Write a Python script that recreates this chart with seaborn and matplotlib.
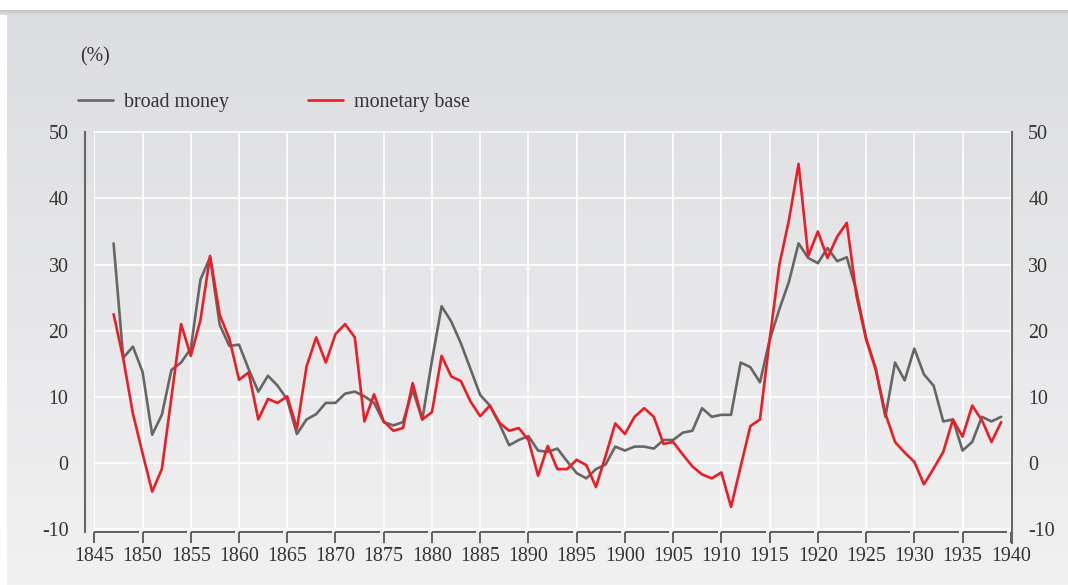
import numpy as np
import pandas as pd
import matplotlib.pyplot as plt
import matplotlib.transforms as mtransforms
from matplotlib.colors import LinearSegmentedColormap
import seaborn as sns

# Annual growth rates (%), 1847-1939
years = list(range(1847, 1940))

broad_money = [
    33.2, 15.9, 17.6, 13.8, 4.3, 7.3, 14.1, 15.2, 17.3, 27.7,   # 1847-1856
    31.1, 20.9, 17.7, 17.9, 14.2, 10.8, 13.2, 11.7, 9.6, 4.4,   # 1857-1866
    6.6, 7.4, 9.1, 9.1, 10.5, 10.8, 10.1, 9.1, 6.2, 5.7,        # 1867-1876
    6.2, 11.1, 6.6, 15.5, 23.7, 21.4, 18.1, 14.2, 10.3, 8.7,    # 1877-1886
    5.9, 2.7, 3.5, 4.1, 1.9, 1.7, 2.2, 0.3, -1.5, -2.3,         # 1887-1896
    -0.9, -0.2, 2.5, 1.9, 2.5, 2.5, 2.2, 3.5, 3.5, 4.6,         # 1897-1906
    4.9, 8.3, 7.0, 7.3, 7.3, 15.2, 14.5, 12.2, 18.6, 23.2,      # 1907-1916
    27.4, 33.2, 31.0, 30.2, 32.5, 30.5, 31.1, 26.0, 18.9, 14.3, # 1917-1926
    7.0, 15.2, 12.5, 17.3, 13.4, 11.7, 6.3, 6.6, 1.9, 3.2,      # 1927-1936
    7.0, 6.3, 7.0,                                              # 1937-1939
]

monetary_base = [
    22.5, 15.8, 7.5, 1.5, -4.3, -0.9, 10.0, 21.0, 16.2, 21.6,   # 1847-1856
    31.3, 22.4, 18.8, 12.6, 13.7, 6.6, 9.7, 9.1, 10.1, 5.2,     # 1857-1866
    14.6, 19.0, 15.2, 19.5, 21.0, 19.0, 6.3, 10.4, 6.3, 4.9,    # 1867-1876
    5.3, 12.1, 6.6, 7.7, 16.2, 13.1, 12.4, 9.3, 7.1, 8.7,       # 1877-1886
    6.1, 4.9, 5.3, 3.5, -1.9, 2.6, -0.9, -0.9, 0.5, -0.3,       # 1887-1896
    -3.6, 1.1, 6.0, 4.4, 7.0, 8.3, 7.0, 2.9, 3.2, 1.3,          # 1897-1906
    -0.5, -1.7, -2.3, -1.4, -6.6, -0.5, 5.6, 6.6, 18.6, 29.9,   # 1907-1916
    36.7, 45.2, 31.3, 35.0, 31.0, 34.2, 36.3, 25.3, 18.7, 14.1, # 1917-1926
    7.5, 3.2, 1.6, 0.2, -3.2, -0.8, 1.7, 6.6, 4.0, 8.7,         # 1927-1936
    6.5, 3.2, 6.2,                                              # 1937-1939
]

x_ticks = list(range(1845, 1941, 5))
y_ticks = [-10, 0, 10, 20, 30, 40, 50]
series_names = ['broad money', 'monetary base']
series_colors = ['#666666', '#ee1c25']

df = pd.DataFrame({
    'year': years * 2,
    'growth': broad_money + monetary_base,
    'series': [series_names[0]] * len(years) + [series_names[1]] * len(years),
})

sns.set_style('white')
plt.rcParams['font.family'] = ['Liberation Serif', 'DejaVu Serif']
plt.rcParams['axes.unicode_minus'] = False

fs = 14.4

fig = plt.figure(figsize=(10.68, 5.85), dpi=100, facecolor='white')

# gradient background panel
bg = fig.add_axes([7 / 1068, 0, 1 - 7 / 1068, 574 / 585], zorder=-10)
grad_cmap = LinearSegmentedColormap.from_list('bg', ['#f1f1f2', '#dcdde0'])
bg.imshow(np.linspace(0, 1, 256).reshape(-1, 1), aspect='auto', cmap=grad_cmap,
          origin='lower', extent=[0, 1, 0, 1])
bg.axis('off')

# thin shadow under the top strip
sh = fig.add_axes([0, 570 / 585, 1, 5 / 585], zorder=-9)
sh_cmap = LinearSegmentedColormap.from_list('sh', ['#dcdde0', '#c4c4c6'])
sh.imshow(np.linspace(0, 1, 32).reshape(-1, 1), aspect='auto', cmap=sh_cmap,
          origin='lower', extent=[0, 1, 0, 1])
sh.axis('off')

ax = fig.add_axes([94.3 / 1068, 53 / 585, 916.5 / 1068, 401.2 / 585])
ax.set_facecolor('none')

sns.lineplot(data=df, x='year', y='growth', hue='series', palette=series_colors,
             linewidth=1.9, ax=ax, legend=False)

ax.set_xlim(1845, 1940)
ax.set_ylim(-10.4, 50.2)
ax.set_xticks(x_ticks)
ax.set_yticks(y_ticks)
ax.set_xlabel('')
ax.set_ylabel('')

ax.grid(True, color='white', linewidth=1.2)
ax.set_axisbelow(True)

# spines
for side in ['top', 'bottom']:
    ax.spines[side].set_visible(False)
ax.spines['left'].set_position(('outward', 7))
ax.spines['left'].set_bounds(-10.4, 50)
ax.spines['right'].set_position(('outward', 1))
ax.spines['right'].set_bounds(-12, 50)
for side in ['left', 'right']:
    ax.spines[side].set_visible(True)
    ax.spines[side].set_color('#666666')
    ax.spines[side].set_linewidth(1.5)

ax.tick_params(axis='y', left=False, right=False, labelleft=True, labelright=True,
               labelsize=fs, labelcolor='#333333', pad=8)
ax.tick_params(axis='x', bottom=True, direction='out', length=8, width=1.3,
               color='#555555', labelsize=fs, labelcolor='#333333', pad=2.5)

# bracket-style x axis: a segment from each tick to just before the next one
trans = mtransforms.blended_transform_factory(ax.transData, ax.transAxes)
for t in x_ticks[:-1]:
    ax.plot([t, t + 4.6], [0, 0], color='#555555', linewidth=1.3,
            transform=trans, clip_on=False, solid_capstyle='butt')

# unit label and legend
fig.text(80 / 1068, (585 - 57) / 585, '(%)', fontsize=fs, color='#333333',
         va='center', ha='left')
handles = [plt.Line2D([], [], color=c, linewidth=1.9) for c in series_colors]
ax.legend(handles, series_names, loc='center left',
          bbox_to_anchor=(78 / 1068, (585 - 102) / 585),
          bbox_transform=fig.transFigure, ncol=2, frameon=False, fontsize=fs,
          handlelength=1.75, handletextpad=0.55, columnspacing=3.95,
          borderpad=0, borderaxespad=0, labelcolor='#333333')

plt.savefig('out.png', dpi=100, facecolor=fig.get_facecolor())
plt.close()
